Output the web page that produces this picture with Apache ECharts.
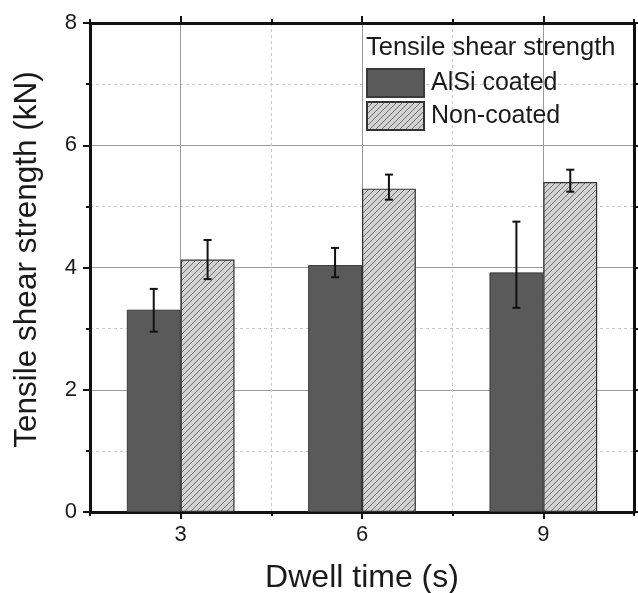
<!DOCTYPE html>
<html>
<head>
<meta charset="utf-8">
<script src="https://cdn.jsdelivr.net/npm/echarts@6/dist/echarts.min.js"></script>
<style>
html,body{margin:0;padding:0;background:#fff;}
#chart{width:638px;height:593px;}
</style>
</head>
<body>
<div id="chart"></div>
<script>
// ---- data ----
var categories = ['3', '6', '9'];
var xTickValues = [3, 6, 9];
var seriesNames = ['AlSi coated', 'Non-coated'];
var alsiValues = [3.31, 4.04, 3.92];
var alsiErrLow = [2.95, 3.84, 3.34];
var alsiErrHigh = [3.65, 4.32, 4.75];
var nonValues = [4.13, 5.29, 5.40];
var nonErrLow = [3.81, 5.11, 5.24];
var nonErrHigh = [4.45, 5.52, 5.60];
var legendTitle = 'Tensile shear strength';
var xTitle = 'Dwell time (s)';
var yTitle = 'Tensile shear strength (kN)';

// ---- styles ----
var FONT = 'Liberation Sans, Arial, sans-serif';
var TXT = '#1a1a1a';
var AX = '#111';
var BAR_FRAC = 0.297;

function hatch() {
  var n = 6;
  var c = document.createElement('canvas');
  c.width = n; c.height = n;
  var g = c.getContext('2d');
  g.fillStyle = '#d2d2d2';
  g.fillRect(0, 0, n, n);
  g.strokeStyle = '#707070';
  g.lineWidth = 1;
  g.beginPath();
  g.moveTo(-1, n + 1); g.lineTo(n + 1, -1);
  g.moveTo(-1, 1); g.lineTo(1, -1);
  g.moveTo(n - 1, n + 1); g.lineTo(n + 1, n - 1);
  g.stroke();
  return c;
}
var hatchPattern = { image: hatch(), repeat: 'repeat' };

function errData(lo, hi) {
  return categories.map(function (c, i) { return [i, lo[i], hi[i]]; });
}
function errSeries(lo, hi, side) {
  return {
    type: 'custom',
    xAxisIndex: 0,
    yAxisIndex: 0,
    z: 10,
    silent: true,
    data: errData(lo, hi),
    renderItem: function (params, api) {
      var band = api.size([1, 0])[0];
      var off = side * band * BAR_FRAC / 2;
      var p1 = api.coord([api.value(0), api.value(1)]);
      var p2 = api.coord([api.value(0), api.value(2)]);
      var x = p1[0] + off;
      var cap = 4;
      var st = { stroke: '#111', lineWidth: 2 };
      return {
        type: 'group',
        children: [
          { type: 'line', shape: { x1: x, y1: p1[1], x2: x, y2: p2[1] }, style: st },
          { type: 'line', shape: { x1: x - cap, y1: p1[1], x2: x + cap, y2: p1[1] }, style: st },
          { type: 'line', shape: { x1: x - cap, y1: p2[1], x2: x + cap, y2: p2[1] }, style: st }
        ]
      };
    }
  };
}

var chart = echarts.init(document.getElementById('chart'), null, { renderer: 'canvas' });

var xMin = 1.5, xMax = 10.5;
var option = {
  backgroundColor: '#fff',
  animation: false,
  textStyle: { fontFamily: FONT, color: TXT },
  title: {
    text: legendTitle,
    left: 366, top: 35, padding: 0,
    textStyle: { fontFamily: FONT, fontSize: 25.5, fontWeight: 'normal', color: TXT }
  },
  legend: {
    orient: 'vertical',
    left: 366, top: 68, padding: 0,
    itemWidth: 57, itemHeight: 28, itemGap: 3,
    icon: 'rect',
    data: seriesNames,
    textStyle: { fontFamily: FONT, fontSize: 25, color: TXT, padding: [0, 0, 0, 2] }
  },
  grid: { left: 90, right: 4, top: 23, bottom: 81, containLabel: false, outerBoundsMode: 'none' },
  xAxis: [
    { // categories for bars
      type: 'category', data: categories, show: false, boundaryGap: true,
      gridIndex: 0
    },
    { // minor dashed grid + minor ticks bottom
      type: 'value', min: xMin, max: xMax, interval: 1.5, position: 'bottom',
      axisLine: { show: false },
      axisTick: { show: true, length: 4, lineStyle: { color: AX, width: 2 } },
      axisLabel: { show: false },
      splitLine: { show: true, lineStyle: { color: '#c8c8c8', type: [3, 3], width: 1 } }
    },
    { // major bottom axis
      type: 'value', min: xMin, max: xMax, position: 'bottom',
      name: xTitle, nameLocation: 'middle', nameGap: 50,
      nameTextStyle: { fontFamily: FONT, fontSize: 32, color: TXT },
      axisLine: { show: true, lineStyle: { color: AX, width: 3 } },
      axisTick: { show: true, length: 7, customValues: xTickValues, lineStyle: { color: AX, width: 2 } },
      axisLabel: { show: true, customValues: xTickValues, margin: 12, fontSize: 22, color: TXT, fontFamily: FONT },
      splitLine: { show: true, lineStyle: { color: '#9a9a9a', width: 1 } }
    },
    { // top axis minor
      type: 'value', min: xMin, max: xMax, interval: 1.5, position: 'top',
      axisLine: { show: false },
      axisTick: { show: true, length: 4, lineStyle: { color: AX, width: 2 } },
      axisLabel: { show: false },
      splitLine: { show: false }
    },
    { // top axis major
      type: 'value', min: xMin, max: xMax, position: 'top',
      axisLine: { show: true, lineStyle: { color: AX, width: 3 } },
      axisTick: { show: true, length: 7, customValues: xTickValues, lineStyle: { color: AX, width: 2 } },
      axisLabel: { show: false },
      splitLine: { show: false }
    }
  ],
  yAxis: [
    {
      type: 'value', min: 0, max: 8, interval: 2, position: 'left',
      name: yTitle, nameLocation: 'middle', nameGap: 47,
      nameTextStyle: { fontFamily: FONT, fontSize: 31.5, color: TXT, padding: [0, 0, 0, 16] },
      axisLine: { show: true, lineStyle: { color: AX, width: 3 } },
      axisTick: { show: true, length: 7, lineStyle: { color: AX, width: 2 } },
      minorTick: { show: true, splitNumber: 2, length: 4, lineStyle: { color: AX, width: 2 } },
      axisLabel: { margin: 13, fontSize: 22, color: TXT, fontFamily: FONT },
      splitLine: { show: true, lineStyle: { color: '#9a9a9a', width: 1 } },
      minorSplitLine: { show: true, lineStyle: { color: '#c8c8c8', type: [3, 3], width: 1 } }
    },
    {
      type: 'value', min: 0, max: 8, interval: 2, position: 'right',
      axisLine: { show: true, lineStyle: { color: AX, width: 3 } },
      axisTick: { show: true, length: 7, lineStyle: { color: AX, width: 2 } },
      minorTick: { show: true, splitNumber: 2, length: 4, lineStyle: { color: AX, width: 2 } },
      axisLabel: { show: false },
      splitLine: { show: false }
    }
  ],
  series: [
    {
      name: seriesNames[0], type: 'bar', xAxisIndex: 0, yAxisIndex: 0,
      data: alsiValues, barWidth: (BAR_FRAC * 100) + '%', barGap: '0%',
      itemStyle: { color: '#5a5a5a', borderColor: '#3a3a3a', borderWidth: 1 }
    },
    {
      name: seriesNames[1], type: 'bar', xAxisIndex: 0, yAxisIndex: 0,
      data: nonValues, barWidth: (BAR_FRAC * 100) + '%', barGap: '0%',
      itemStyle: { color: hatchPattern, borderColor: '#333', borderWidth: 1.2 }
    },
    errSeries(alsiErrLow, alsiErrHigh, -1),
    errSeries(nonErrLow, nonErrHigh, 1)
  ]
};
chart.setOption(option);
</script>
</body>
</html>
